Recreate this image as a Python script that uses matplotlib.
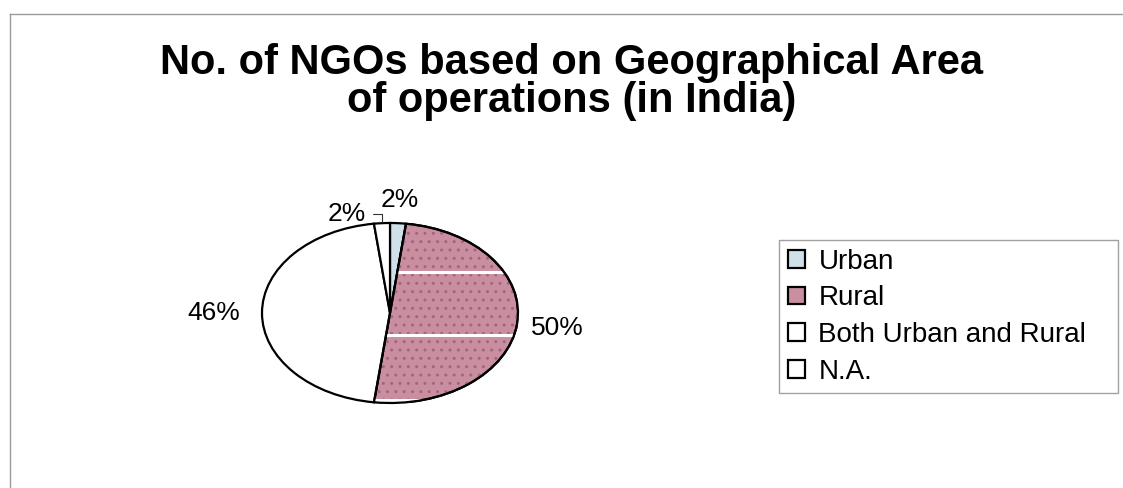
import matplotlib
matplotlib.use("Agg")
import matplotlib.pyplot as plt
from matplotlib.patches import Wedge
from matplotlib.lines import Line2D
import numpy as np

plt.rcParams["font.family"] = ["Liberation Sans", "DejaVu Sans"]

areas = ["Urban", "Rural", "Both Urban and Rural", "N.A."]
shares = [2, 50, 46, 2]
fills = ["#cfe0ea", "#c98fa0", "#ffffff", "#ffffff"]
# how far out each percentage sits from the centre, in radii
label_dist = [1.26, 1.32, 1.38, None]

W, H = 1123, 488
fig = plt.figure(figsize=(W / 100, H / 100), dpi=100)
fig.patch.set_facecolor("white")

# thin sheet border (top and left edges only)
fig.add_artist(Line2D([10 / W, 1.0], [1 - 14 / H, 1 - 14 / H], color="#9a9a9a", lw=1.0))
fig.add_artist(Line2D([10 / W, 10 / W], [0, 1 - 14 / H], color="#9a9a9a", lw=1.0))

fig.text(572 / W, 1 - 63 / H, "No. of NGOs based on Geographical Area",
         ha="center", va="center", fontsize=30, fontweight="bold")
fig.text(572 / W, 1 - 101 / H, "of operations (in India)",
         ha="center", va="center", fontsize=30, fontweight="bold")

# pie axes sized so the unit circle becomes the flattened ellipse
cx, cy, rx, ry = 390, 313, 128, 90
ax = fig.add_axes([(cx - rx) / W, 1 - (cy + ry) / H, 2 * rx / W, 2 * ry / H])
wedges, _ = ax.pie(shares, colors=fills, startangle=90, counterclock=False,
                   wedgeprops=dict(edgecolor="black", linewidth=1.6))
ax.set_aspect("auto")
ax.set_xlim(-1, 1)
ax.set_ylim(-1, 1)

# dotted texture and pale streaks on the Rural slice
rural = wedges[1]
dots = Wedge((0, 0), 1, rural.theta1, rural.theta2, facecolor="none",
             edgecolor="#a5667d", lw=0, hatch="..", zorder=rural.get_zorder() + 0.1)
ax.add_patch(dots)
for yy in [0.46, -0.25, -0.97]:
    ln = ax.axhline(yy, color="white", lw=2.2, zorder=rural.get_zorder() + 0.2)
    ln.set_clip_path(rural)
rural_edge = Wedge((0, 0), 1, rural.theta1, rural.theta2, facecolor="none",
                   edgecolor="black", lw=1.6, zorder=rural.get_zorder() + 0.3)
ax.add_patch(rural_edge)

for w, pct, d in zip(wedges, shares, label_dist):
    mid = np.deg2rad((w.theta1 + w.theta2) / 2)
    txt = f"{pct}%"
    if d is None:
        ax.annotate(txt, xy=(np.cos(mid) * 1.01, np.sin(mid) * 1.01),
                    xytext=(-0.34, 1.10), ha="center", va="center", fontsize=19,
                    arrowprops=dict(arrowstyle="-", color="#333333", lw=0.8,
                                    shrinkA=3, shrinkB=0,
                                    connectionstyle="angle,angleA=0,angleB=90,rad=0"),
                    annotation_clip=False)
    else:
        ax.text(np.cos(mid) * d, np.sin(mid) * d, txt, ha="center", va="center",
                fontsize=19, clip_on=False)

leg = fig.legend(wedges, areas, loc="upper left",
                 bbox_to_anchor=(779 / W, 1 - 392 / H, 339 / W, 152 / H),
                 mode="expand", borderaxespad=0, fontsize=20,
                 handlelength=0.6, handleheight=0.6, handletextpad=0.5,
                 labelspacing=0.38, borderpad=0.32, fancybox=False,
                 frameon=True, edgecolor="#8a8a8a")
leg.get_frame().set_linewidth(1.0)

fig.savefig("out.png", dpi=100, facecolor="white")
